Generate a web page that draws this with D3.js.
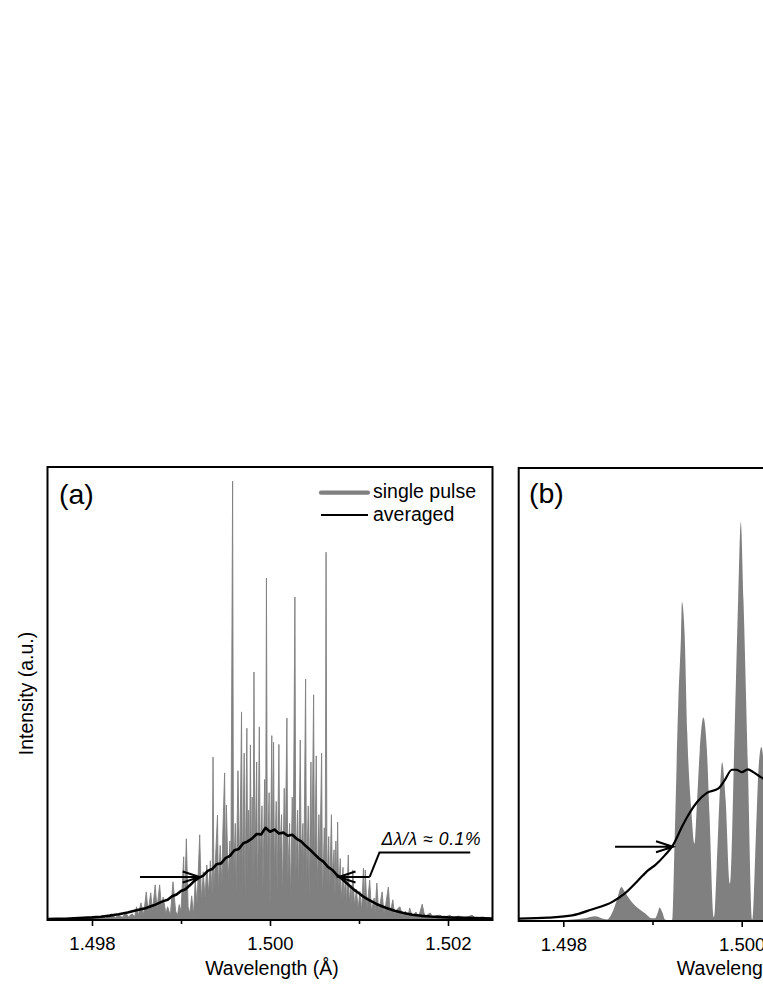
<!DOCTYPE html>
<html><head><meta charset="utf-8">
<script src="https://cdn.jsdelivr.net/npm/d3@7/dist/d3.min.js"></script>
<style>
html,body{margin:0;padding:0;background:#fff;}
svg{display:block;font-family:"Liberation Sans",Arial,Helvetica,sans-serif;}
</style></head>
<body><svg id="chart" width="763" height="987"></svg>
<script>
// ---------- DATA ----------
const xDomain = [1.4975, 1.5025];
const majorTicks = [1.498, 1.500, 1.502];
const minorTicks = [1.499, 1.501];
const legendLabels = ["single pulse", "averaged"];
const panelLabels = ["(a)", "(b)"];
const annotationText = "Δλ/λ ≈ 0.1%";

// Panel (a): single pulse spectrum [wavelength Å, intensity a.u.]
const singlePulseA = [
[1.49750,0.2],[1.49760,0.3],[1.49770,0.2],[1.49780,0.5],[1.49790,0.3],[1.49800,0.6],[1.49805,0.3],[1.49812,1.0],[1.49815,0.4],[1.49822,1.4],[1.49826,0.5],[1.49830,1.1],[1.49834,0.6],[1.49838,1.6],[1.49841,0.7],[1.49845,1.4],[1.49848,0.8],
[1.49850,3.0],[1.49852,1.0],[1.49855,3.9],[1.49858,1.2],[1.49861,6.4],[1.49863,1.8],[1.49866,6.2],[1.49868,2.0],[1.49871,8.0],[1.49873,2.5],[1.49876,8.0],[1.49878,3.0],[1.49880,5.2],[1.49883,1.5],[1.49885,3.0],[1.49888,1.0],[1.49891,8.7],[1.49894,2.0],[1.49896,1.0],[1.49898,3.5],[1.49900,2.0],[1.49903,14.4],[1.49904,4.0],[1.49906,18.5],[1.49908,3.0],[1.49910,1.5],[1.49912,5.5],[1.49914,1.0],[1.49916,9.0],[1.49918,3.5],[1.49921,19.4],[1.49923,4.0],[1.49925,11.0],[1.49927,5.0],[1.49929,12.5],[1.49931,6.0],[1.49933,13.5],[1.49935,5.5],[1.49936,37.1],[1.49937,7.0],[1.49939,15.0],[1.49941,23.9],[1.49942,6.5],[1.49944,17.0],[1.49946,8.0],[1.49947,20.0],[1.49949,33.5],[1.49950,10.0],[1.49951,26.2],[1.49953,9.0],[1.49955,18.0],[1.49956,8.0],[1.49958,100],[1.49959,9.0],[1.49961,22.0],[1.49962,6.0],[1.49964,34.0],[1.49966,10.0],[1.49968,47.4],[1.49969,8.0],[1.49971,38.0],[1.49972,5.0],[1.49974,43.7],[1.49975,9.0],[1.49976,25.0],[1.49977,12.0],[1.49978,39.9],[1.49979,10.0],[1.49980,28.0],[1.49981,8.0],[1.49982,56.5],[1.49983,12.0],[1.49985,36.0],[1.49986,4.0],[1.49988,44.0],[1.49989,14.0],[1.49991,26.0],[1.49992,7.0],[1.49994,32.0],[1.49995,10.0],[1.49996,77.9],[1.49997,12.0],[1.49999,29.0],[1.50000,3.0],[1.50002,42.0],[1.50003,14.0],[1.50004,40.5],[1.50005,11.0],[1.50007,27.0],[1.50008,6.0],[1.50010,40.0],[1.50011,15.0],[1.50013,24.0],[1.50014,5.0],[1.50016,30.0],[1.50017,13.0],[1.50019,46.0],[1.50020,9.0],[1.50022,22.0],[1.50023,4.0],[1.50025,28.0],[1.50026,12.0],[1.50028,73.6],[1.50029,10.0],[1.50031,25.0],[1.50032,6.0],[1.50034,41.0],[1.50035,14.0],[1.50037,22.0],[1.50038,9.0],[1.50040,54.9],[1.50041,8.0],[1.50043,26.0],[1.50044,5.0],[1.50046,36.0],[1.50047,12.0],[1.50049,51.3],[1.50050,10.0],[1.50052,37.4],[1.50053,7.0],[1.50055,24.0],[1.50056,12.0],[1.50058,38.0],[1.50059,4.0],[1.50061,21.0],[1.50062,9.0],[1.50063,83.8],[1.50064,8.0],[1.50066,19.0],[1.50067,6.0],[1.50069,24.0],[1.50070,10.0],[1.50072,16.0],[1.50073,5.0],[1.50074,18.0],[1.50075,7.0],[1.50076,22.3],[1.50077,6.0],[1.50079,14.0],[1.50080,4.0],[1.50082,12.0],[1.50083,5.0],[1.50085,10.0],[1.50086,3.5],[1.50088,14.8],[1.50089,4.0],[1.50091,8.0],[1.50092,3.0],[1.50093,11.4],[1.50095,3.0],[1.50097,7.0],[1.50099,2.5],[1.50101,6.5],[1.50103,2.0],[1.50105,11.8],[1.50106,3.0],[1.50107,11.4],[1.50109,2.5],[1.50112,9.1],[1.50114,2.0],[1.50117,5.0],[1.50118,1.5],[1.50120,8.4],[1.50122,2.0],[1.50124,4.0],[1.50126,6.4],[1.50128,1.5],[1.50130,3.5],[1.50133,7.5],[1.50135,1.5],[1.50138,4.6],[1.50140,1.2],[1.50143,2.5],[1.50146,3.0],[1.50149,1.0],[1.50152,2.0],[1.50155,0.8],[1.50157,2.7],[1.50160,0.8],[1.50164,1.8],[1.50167,0.7],[1.50171,3.6],[1.50174,0.7],[1.50177,1.2],[1.50180,1.6],[1.50183,0.6],[1.50187,1.0],[1.50191,1.1],[1.50195,0.5],[1.50202,1.1],[1.50206,0.5],[1.50212,0.9],[1.50218,0.4],[1.50227,1.1],[1.50231,0.4],[1.50239,0.7],[1.50245,0.3],[1.50250,0.3]
];

// Panel (a): averaged spectrum
const averagedA = [
[1.4975,0.2],[1.4976,0.25],[1.4977,0.3],[1.4978,0.4],[1.4979,0.5],[1.4980,0.6],[1.4981,0.75],[1.4982,1.0],[1.4983,1.3],[1.4984,1.7],[1.4985,2.2],[1.4986,2.7],[1.4987,3.4],[1.4988,4.3],[1.49885,4.6],[1.4989,5.4],[1.49895,5.8],[1.4990,6.6],[1.49905,7.0],[1.4991,7.9],[1.49915,8.9],[1.4992,9.6],[1.49925,10.1],[1.4993,11.2],[1.49935,11.6],[1.4994,12.7],[1.49945,12.9],[1.4995,14.1],[1.49955,14.6],[1.4996,15.9],[1.49965,16.2],[1.4997,17.5],[1.49975,17.9],[1.4998,18.6],[1.49985,19.6],[1.4999,19.5],[1.49995,21.0],[1.5000,20.1],[1.50005,20.6],[1.5001,19.7],[1.50015,19.9],[1.5002,19.2],[1.50025,19.4],[1.5003,18.5],[1.50035,17.9],[1.5004,16.9],[1.50045,16.0],[1.5005,15.0],[1.50055,14.0],[1.5006,13.3],[1.50065,12.1],[1.5007,11.4],[1.50075,10.3],[1.5008,9.5],[1.50085,8.6],[1.5009,7.7],[1.50095,6.8],[1.5010,6.1],[1.50105,5.3],[1.5011,4.7],[1.5012,3.6],[1.5013,2.8],[1.5014,2.1],[1.5015,1.6],[1.5016,1.2],[1.5017,0.95],[1.5018,0.8],[1.5019,0.7],[1.5020,0.6],[1.5021,0.55],[1.5022,0.5],[1.5023,0.45],[1.5024,0.4],[1.5025,0.35]
];

// Panel (b): single pulse spectrum
const singlePulseB = [
[1.49750,0],[1.49796,0.2],[1.49824,0.7],[1.49836,1.2],[1.49843,0.7],[1.49849,0.4],[1.49855,2.2],[1.49860,5.2],[1.49865,8.5],[1.49870,6.9],[1.49877,4.7],[1.49884,3.2],[1.49892,1.9],[1.49899,0.7],[1.49903,0.7],[1.49906,2.2],[1.49908,3.4],[1.49911,2.2],[1.49914,0.4],[1.49918,0.2],[1.49922,0.2],
[1.49925,21.9],[1.49929,55.3],[1.49932,72.0],[1.49933,79.9],[1.49936,72.0],[1.49939,47.0],[1.49944,26.1],[1.49947,19.4],
[1.49950,30.3],[1.49953,42.8],[1.49957,51.0],[1.49961,42.8],[1.49964,26.1],[1.49969,1.0],
[1.49972,13.5],[1.49976,34.4],[1.49978,39.8],[1.49982,30.3],[1.49987,9.4],
[1.49992,47.0],[1.49996,80.4],[1.49999,100],[1.50002,80.4],[1.50007,38.6],[1.50012,0.4],
[1.50016,21.9],[1.50019,38.6],[1.50022,43.6],[1.50025,38.0],[1.50028,20.0]
];

// Panel (b): averaged spectrum
const averagedB = [
[1.49750,0.6],[1.49783,0.85],[1.49810,1.4],[1.49832,2.9],[1.49855,4.8],[1.49869,6.9],[1.49884,10.2],[1.49895,12.7],[1.49903,14.0],[1.49914,16.5],[1.49923,19.0],[1.49933,23.6],[1.49940,26.5],[1.49950,29.8],[1.49961,32.1],[1.49974,33.2],[1.49981,35.3],[1.49989,37.9],[1.49994,37.9],[1.50000,37.3],[1.50007,38.0],[1.50013,37.3],[1.50021,36.1],[1.50030,35.0]
];

// FWHM arrows [tail wavelength, tip wavelength, intensity]
const arrowsA = [[1.49854, 1.49921, 9.8], [1.50112, 1.50077, 9.8]];
const leaderA = [[1.50112, 9.8], [1.50123, 15.4], [1.50225, 15.4]];
const arrowsB = [[1.49858, 1.49923, 18.6]];

// ---------- DRAW ----------
const svg = d3.select("#chart");
const GRAY = "#808080";
const FONT = '"Liberation Sans",Arial,Helvetica,sans-serif';

const panels = [
  {left:47.5, right:492.5, top:467, bottom:920, ymax:103.2, sp:singlePulseA, av:averagedA, avW:2.6, spStroke:0.9, curve:d3.curveLinear, label:panelLabels[0], lx:59, ly:504},
  {left:518.7, right:964.7, top:468, bottom:921, ymax:113.5, sp:singlePulseB, av:averagedB, avW:2.2, spStroke:0, curve:d3.curveMonotoneX, label:panelLabels[1], lx:529, ly:503}
];

panels.forEach((p, i) => {
  p.x = d3.scaleLinear().domain(xDomain).range([p.left, p.right]);
  p.y = d3.scaleLinear().domain([0, p.ymax]).range([p.bottom, p.top]);
  const g = svg.append("g");
  const clipId = "clip" + i;
  svg.append("clipPath").attr("id", clipId).append("rect")
    .attr("x", p.left).attr("y", p.top).attr("width", p.right - p.left).attr("height", p.bottom - p.top);
  const inner = g.append("g").attr("clip-path", `url(#${clipId})`);
  const area = d3.area().curve(p.curve).x(d => p.x(d[0])).y0(p.y(0)).y1(d => p.y(d[1]));
  inner.append("path").datum(p.sp).attr("d", area).attr("fill", GRAY)
    .attr("stroke", p.spStroke ? GRAY : "none").attr("stroke-width", p.spStroke).attr("stroke-linejoin", "round");
  const line = d3.line().curve(p.curve).x(d => p.x(d[0])).y(d => p.y(d[1]));
  inner.append("path").datum(p.av).attr("d", line).attr("fill", "none")
    .attr("stroke", "#000").attr("stroke-width", p.avW).attr("stroke-linejoin", "round");

  // frame
  g.append("rect").attr("x", p.left).attr("y", p.top).attr("width", p.right - p.left).attr("height", p.bottom - p.top)
    .attr("fill", "none").attr("stroke", "#000").attr("stroke-width", 2);

  // axes
  const ax = g.append("g").attr("transform", `translate(0,${p.bottom})`)
    .call(d3.axisBottom(p.x).tickValues(majorTicks).tickSize(6).tickFormat(d3.format(".3f")));
  ax.select(".domain").remove();
  ax.selectAll(".tick line").attr("stroke", "#000").attr("stroke-width", 1.6);
  ax.selectAll(".tick text").attr("y", 30).attr("dy", 0).attr("font-size", 18.5)
    .attr("font-family", FONT).attr("fill", "#000");
  const axm = g.append("g").attr("transform", `translate(0,${p.bottom})`)
    .call(d3.axisBottom(p.x).tickValues(minorTicks).tickSize(4).tickFormat(""));
  axm.select(".domain").remove();
  axm.selectAll(".tick line").attr("stroke", "#000").attr("stroke-width", 1.6);

  // x axis title
  g.append("text").attr("x", (p.left + p.right) / 2 + 2).attr("y", 975).attr("text-anchor", "middle")
    .attr("font-size", 19.5).attr("font-family", FONT).attr("fill", "#000").text("Wavelength (Å)");

  // panel label
  g.append("text").attr("x", p.lx).attr("y", p.ly).attr("font-size", 28.5).attr("font-family", FONT)
    .attr("fill", "#000").text(p.label);
});

// y axis title
svg.append("text").attr("transform", "translate(33,693.5) rotate(-90)").attr("text-anchor", "middle")
  .attr("font-size", 19.5).attr("font-family", FONT).attr("fill", "#000").text("Intensity (a.u.)");

// legend (panel a)
const lg = svg.append("g");
lg.append("line").attr("x1", 321).attr("x2", 368).attr("y1", 492.7).attr("y2", 492.7)
  .attr("stroke", GRAY).attr("stroke-width", 4.2).attr("stroke-linecap", "round");
lg.append("text").attr("x", 373).attr("y", 497.5).attr("font-size", 19.5).attr("font-family", FONT).text(legendLabels[0]);
lg.append("line").attr("x1", 321).attr("x2", 368).attr("y1", 515).attr("y2", 515)
  .attr("stroke", "#000").attr("stroke-width", 2);
lg.append("text").attr("x", 373).attr("y", 521).attr("font-size", 19.5).attr("font-family", FONT).text(legendLabels[1]);

// arrows
function drawArrow(p, a) {
  const x1 = p.x(a[0]), x2 = p.x(a[1]), y = p.y(a[2]);
  const dir = x2 > x1 ? 1 : -1;
  const L = 17, Hh = 5.5;
  svg.append("path")
    .attr("d", `M${x1},${y}L${x2},${y}M${x2 - dir * L},${y - Hh}L${x2},${y}L${x2 - dir * L},${y + Hh}`)
    .attr("fill", "none").attr("stroke", "#000").attr("stroke-width", 2).attr("stroke-linejoin", "miter");
}
arrowsA.forEach(a => drawArrow(panels[0], a));
arrowsB.forEach(a => drawArrow(panels[1], a));
svg.append("path").datum(leaderA)
  .attr("d", d3.line().x(d => panels[0].x(d[0])).y(d => panels[0].y(d[1])))
  .attr("fill", "none").attr("stroke", "#000").attr("stroke-width", 2);
svg.append("text").attr("x", 381.5).attr("y", 845).attr("font-size", 17.5).attr("font-style", "italic")
  .attr("font-family", FONT).attr("fill", "#000").attr("textLength", 99).attr("lengthAdjust", "spacing")
  .text(annotationText);
</script></body></html>
